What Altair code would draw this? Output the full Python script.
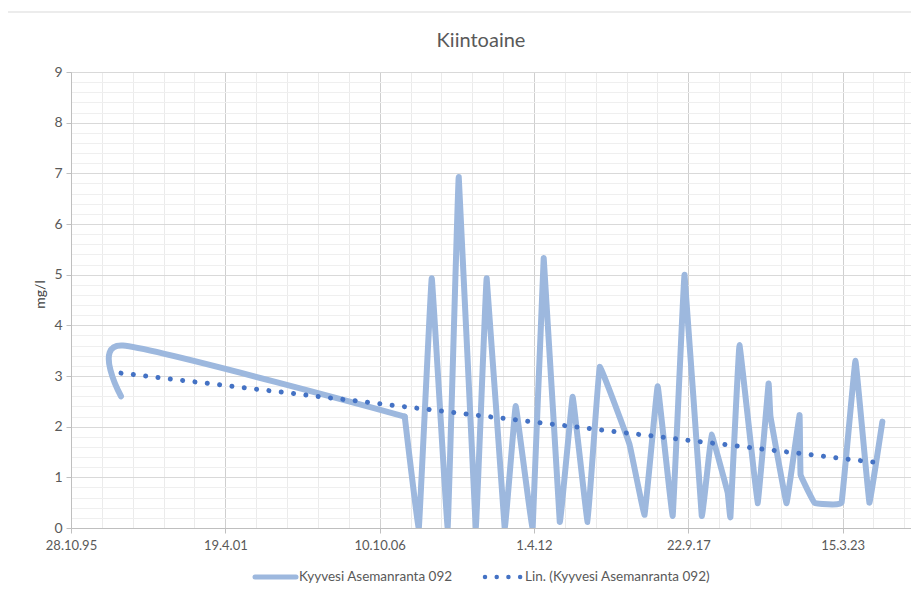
import altair as alt
import pandas as pd

# ---------------- data ----------------
title_text = "Kiintoaine"
y_title = "mg/l"
series_names = ["Kyyvesi Asemanranta 092", "Lin. (Kyyvesi Asemanranta 092)"]

dates = ["1997-08-06", "1997-08-31", "2007-08-31", "2008-03-01", "2008-08-15",
         "2009-03-10", "2009-07-31", "2010-03-08", "2010-07-28", "2011-03-18",
         "2011-08-08", "2012-03-15", "2012-08-05", "2013-03-01", "2013-08-15",
         "2014-02-25", "2014-07-31", "2015-08-22", "2016-03-05", "2016-08-21",
         "2017-03-04", "2017-08-04", "2018-03-15", "2018-07-20", "2019-02-14",
         "2019-03-22", "2019-07-17", "2020-03-08", "2020-07-28", "2020-08-22",
         "2021-03-18", "2021-09-02", "2021-09-16", "2022-03-15", "2023-03-01",
         "2023-08-28", "2024-02-24", "2024-08-11"]
values = [2.6, 3.6, 2.2, 0, 4.93, 0, 6.93, 0, 4.93, 0,
          2.41, 0, 5.33, 0.12, 2.59, 0.12, 3.18, 1.65, 0.26, 2.8,
          0.24, 5.0, 0.24, 1.84, 0.7, 0.22, 3.61, 0.49, 2.85, 2.2,
          0.49, 2.23, 1.05, 0.5, 0.5, 3.3, 0.5, 2.1]

x_tick_dates = ["1995-10-28", "2001-04-19", "2006-10-10", "2012-04-01",
                "2017-09-22", "2023-03-15"]
x_domain = ["1995-10-28", "2025-08-17"]
y_ticks = [0, 1, 2, 3, 4, 5, 6, 7, 8, 9]


def ms(s):
    return int(pd.Timestamp(s, tz="UTC").value // 10**6)


x_major = [ms(d) for d in x_tick_dates]
x_minor = [ms(d) for d in pd.date_range(x_domain[0], x_domain[1], freq="400D").strftime("%Y-%m-%d")]
y_minor = [round(i * 0.2, 1) for i in range(46)]

df = pd.DataFrame({"date": dates, "value": values})
one = pd.DataFrame({"k": [0]})

FONT = "Lato"
W, H = 840, 456
LINE_COLOR = "#9DB8DE"
TREND_COLOR = "#4472C4"
TEXT_COLOR = "#595959"
LEG_Y = 505

x_scale = alt.Scale(type="utc", domain=[ms(x_domain[0]), ms(x_domain[1])])
y_scale = alt.Scale(domain=[0, 9], nice=False, zero=True)

minor_x_axis = alt.Axis(orient="top", values=x_minor, grid=True, gridColor="#EBEBEB",
                        gridWidth=1, labels=False, ticks=False, domain=False, title="")
minor_y_axis = alt.Axis(orient="right", values=y_minor, grid=True, gridColor="#EFEFEF",
                        gridWidth=1, labels=False, ticks=False, domain=False, title="")

# ---------------- layers ----------------
border = alt.Chart(one).mark_rect(filled=False, stroke="#D9D9D9", strokeWidth=1, clip=False).encode(
    x=alt.value(-66), x2=alt.value(900), y=alt.value(-60), y2=alt.value(540)
)

indexed = alt.Chart(df).transform_window(idx="row_number()")

# first, sparse part of the series: Excel-like strong smoothing
line_head = indexed.transform_filter("datum.idx <= 3").mark_line(
    interpolate="cardinal", tension=0.35, color=LINE_COLOR, strokeWidth=6,
    strokeJoin="round", strokeCap="round", clip=True
).encode(
    x=alt.X("date:T", scale=x_scale, axis=minor_x_axis),
    y=alt.Y("value:Q", scale=y_scale, axis=minor_y_axis),
)

# dense part of the series: only slight smoothing
line_tail = indexed.transform_filter("datum.idx >= 3").mark_line(
    interpolate="cardinal", tension=0.85, color=LINE_COLOR, strokeWidth=6,
    strokeJoin="round", strokeCap="round", clip=True
).encode(
    x=alt.X("date:T", scale=x_scale, axis=None),
    y=alt.Y("value:Q", scale=y_scale, axis=None),
)

trend = alt.Chart(df).transform_calculate(
    t="time(datum.date)"
).transform_regression("t", "value", method="linear").mark_line(
    color=TREND_COLOR, strokeWidth=5, strokeDash=[0.01, 12.4], strokeCap="round", clip=True
).encode(
    x=alt.X("t:T", scale=x_scale,
            axis=alt.Axis(orient="bottom", values=x_major, format="%-d.%-m.%y", grid=True,
                          gridColor="#CFCFCF", gridWidth=1, domain=True, domainColor="#BFBFBF",
                          ticks=True, tickColor="#BFBFBF", tickSize=5, labelColor=TEXT_COLOR,
                          labelFont=FONT, labelFontSize=13, labelPadding=6, labelFlush=False,
                          labelOverlap=False, title="")),
    y=alt.Y("value:Q", scale=y_scale,
            axis=alt.Axis(orient="left", values=y_ticks, grid=True, gridColor="#D9D9D9",
                          gridWidth=1, domain=True, domainColor="#BFBFBF", ticks=True,
                          tickColor="#BFBFBF", tickSize=5, labelColor=TEXT_COLOR,
                          labelFont=FONT, labelFontSize=14, labelPadding=4,
                          title=y_title, titleFont=FONT, titleFontSize=14,
                          titleFontWeight="normal", titleColor="#404040",
                          titleX=-31, titleY=222, titleAngle=270, titleAlign="center",
                          titleBaseline="middle")),
)

title = alt.Chart(one).mark_text(
    font=FONT, fontSize=20, fontWeight="normal", color=TEXT_COLOR, align="center",
    baseline="alphabetic"
).encode(x=alt.value(410), y=alt.value(-25), text=alt.value(title_text))

leg_line = alt.Chart(one).mark_rule(color=LINE_COLOR, strokeWidth=5, strokeCap="round").encode(
    x=alt.value(184), x2=alt.value(225), y=alt.value(LEG_Y)
)
leg_text1 = alt.Chart(one).mark_text(
    font=FONT, fontSize=13.5, color=TEXT_COLOR, align="left", baseline="middle"
).encode(x=alt.value(228), y=alt.value(LEG_Y), text=alt.value(series_names[0]))

leg_dots = alt.Chart(one).mark_rule(
    color=TREND_COLOR, strokeWidth=4.5, strokeDash=[0.01, 11.7], strokeCap="round"
).encode(x=alt.value(414), x2=alt.value(450), y=alt.value(LEG_Y))
leg_text2 = alt.Chart(one).mark_text(
    font=FONT, fontSize=13.5, color=TEXT_COLOR, align="left", baseline="middle"
).encode(x=alt.value(454), y=alt.value(LEG_Y), text=alt.value(series_names[1]))

chart = alt.layer(
    border, line_head, line_tail, trend, title, leg_line, leg_text1, leg_dots, leg_text2
).resolve_axis(x="independent", y="independent").properties(
    width=W, height=H,
    autosize=alt.AutoSizeParams(type="none"),
    padding={"left": 63, "top": 64, "right": 0, "bottom": 57},
    background="white",
).configure_view(strokeWidth=0)

chart.save("out.html", embed_options={"renderer": "svg", "actions": False})
